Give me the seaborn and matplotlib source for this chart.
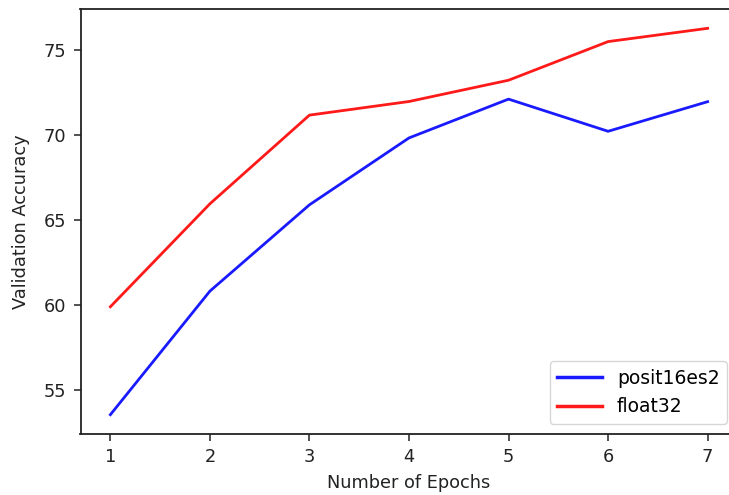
import matplotlib
matplotlib.use("Agg")
import matplotlib.pyplot as plt
import seaborn as sns
import pandas as pd

epochs = [1, 2, 3, 4, 5, 6, 7]
posit16es2 = [53.57, 60.83, 65.90, 69.83, 72.11, 70.22, 71.96]
float32 = [59.91, 65.96, 71.17, 71.97, 73.22, 75.49, 76.27]
series_names = ["posit16es2", "float32"]
colors = ["#1a1aff", "#ff1a1a"]

df = pd.DataFrame({
    "epoch": epochs * 2,
    "acc": posit16es2 + float32,
    "series": [series_names[0]] * len(epochs) + [series_names[1]] * len(epochs),
})

plt.rcParams["font.family"] = ["DejaVu Sans"]
fig = plt.figure(figsize=(7.29, 4.95), dpi=100)
ax = fig.add_axes([80.5 / 729, 61 / 495, 657 / 729, 425 / 495])
sns.lineplot(data=df, x="epoch", y="acc", hue="series", palette=colors,
             linewidth=2.0, ax=ax)
ax.set_xlabel("Number of Epochs", fontsize=12.8, color="#222222", labelpad=6)
ax.set_ylabel("Validation Accuracy", fontsize=12.8, color="#222222", labelpad=10)
ax.set_xticks(epochs)
ax.set_yticks([55, 60, 65, 70, 75])
ax.tick_params(labelsize=12.8, length=5, width=1.1, pad=5, colors="#222222")
for s in ax.spines.values():
    s.set_linewidth(1.3)
    s.set_color("#222222")
ax.margins(x=0.05, y=0.05)
leg = ax.legend(loc="lower right", fontsize=13.5, handlelength=2.4,
                borderaxespad=0.55, labelspacing=0.5)
for line in leg.get_lines():
    line.set_linewidth(2.5)
fig.savefig("out.png", dpi=100)
